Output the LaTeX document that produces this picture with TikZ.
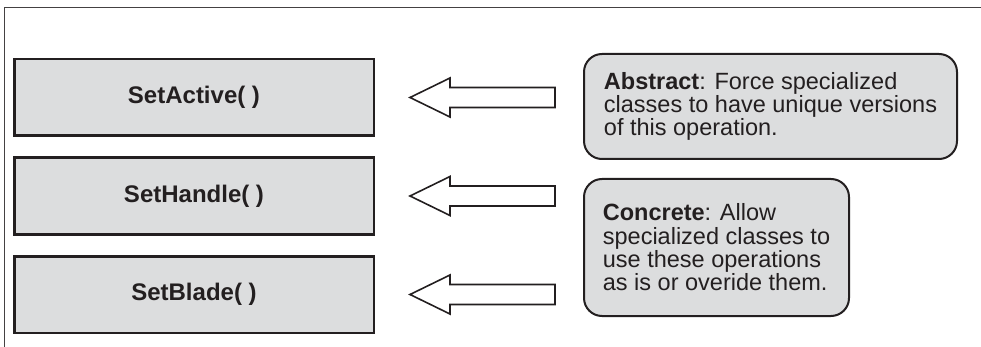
\documentclass[tikz,border=0pt]{standalone}
\usepackage{fontspec}
\setmainfont{Liberation Sans}
\definecolor{ink}{HTML}{231F20}
\definecolor{boxgray}{HTML}{DCDDDE}
\begin{document}
\begin{tikzpicture}[x=1pt,y=-1pt,
  opbox/.style={draw=ink, line width=2.5pt, fill=boxgray, minimum width=359.5pt, minimum height=76.5pt, inner sep=0pt, font=\fontsize{24}{28}\selectfont\bfseries, text=ink},
  callout/.style={draw=ink, line width=2pt, fill=boxgray, rounded corners=18pt, inner sep=0pt, align=left, font=\fontsize{23.5}{23.3}\selectfont, text=ink},
  hollowarrow/.style={draw=ink, line width=1.6pt, fill=white, line join=miter}
]
\useasboundingbox (0,0) rectangle (981,347);
% frame
\draw[ink!85, line width=1.2pt] (4.6,347) -- (4.6,7.3) -- (981,7.3);
% operation boxes
\node[opbox] (active) at (194,97.5) {SetActive( )};
\node[opbox] (handle) at (194,196) {SetHandle( )};
\node[opbox] (blade)  at (194,294.5) {SetBlade( )};
% callouts
\node[callout, minimum width=373pt, minimum height=105pt] (abstract) at (770.5,106.5)
  {\textbf{Abstract}: Force specialized\\classes to have unique versions\\of this operation.};
\node[callout, minimum width=265pt, minimum height=137pt] (concrete) at (716.5,247.5)
  {\textbf{Concrete}: Allow\\specialized classes to\\use these operations\\as is or overide them.};
% hollow arrows
\foreach \yy in {97.5,196,294.5}{
  \draw[hollowarrow] (410,\yy) -- (450,\yy-19.5) -- (450,\yy-10) -- (555,\yy-10)
    -- (555,\yy+10) -- (450,\yy+10) -- (450,\yy+19.5) -- cycle;
}
\end{tikzpicture}
\end{document}
